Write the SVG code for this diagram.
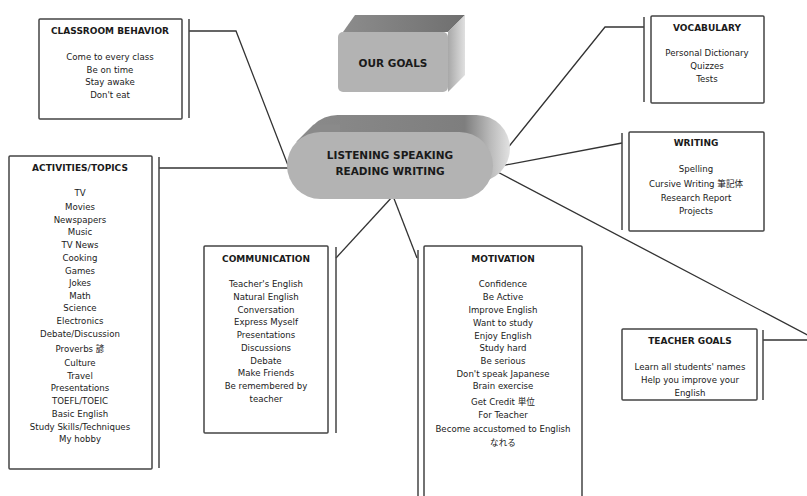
<svg xmlns="http://www.w3.org/2000/svg" width="807" height="496" viewBox="0 0 807 496">
<defs>
<linearGradient id="extr" x1="0" y1="0" x2="1" y2="0">
<stop offset="0" stop-color="#8a8a8a"/>
<stop offset="0.78" stop-color="#7e7e7e"/>
<stop offset="0.9" stop-color="#b8b8b8"/>
<stop offset="1" stop-color="#e2e2e2"/>
</linearGradient>
<linearGradient id="topg" x1="0" y1="0" x2="1" y2="0">
<stop offset="0" stop-color="#8c8c8c"/>
<stop offset="1" stop-color="#6f6f6f"/>
</linearGradient>
<linearGradient id="sideg" x1="0" y1="0" x2="1" y2="0">
<stop offset="0" stop-color="#a8a8a8"/>
<stop offset="1" stop-color="#e0e0e0"/>
</linearGradient>
</defs>
<style>
.box{fill:#fff;stroke:#444;stroke-width:1.5}
.bar{stroke:#444;stroke-width:1.5;fill:none}
.con{stroke:#333;stroke-width:1.3;fill:none}
.face{fill:#b3b3b3}
text{font-family:"DejaVu Sans","Noto Sans CJK JP",sans-serif;fill:#1a1a1a;text-anchor:middle;dominant-baseline:central}
.t{font-size:9px;font-weight:bold}
.i{font-size:8.6px}
.big{font-size:10.5px;font-weight:bold}
</style>
<rect width="807" height="496" fill="#fff"/>
<g id="connectors">
<polyline class="con" points="189,31 236,31 289,168"/>
<line class="con" x1="159" y1="168" x2="292" y2="168"/>
<polyline class="con" points="644,27 605,27 490,170"/>
<line class="con" x1="622" y1="143" x2="490" y2="168"/>
<polyline class="con" points="763,340 817,340 490,168"/>
<line class="con" x1="336" y1="258" x2="393" y2="196"/>
<line class="con" x1="393" y1="196" x2="417" y2="258"/>
</g>
<g id="our-goals">
<polygon points="343,32 355,15 465,15 448,32" fill="url(#topg)"/>
<polygon points="448,32 465,15 465,75 448,92" fill="url(#sideg)"/>
<rect class="face" x="338" y="32" width="110" height="60" rx="5"/>
<text class="big" x="393" y="63">OUR GOALS</text>
</g>
<g id="center">
<rect x="304" y="115" width="206" height="67" rx="33.5" fill="url(#extr)"/>
<polygon points="296.3,141.8 313.3,124.8 340,124.8 340,141.8" fill="#8a8a8a"/>
<rect class="face" x="287" y="132" width="206" height="67" rx="33.5"/>
<text class="big" x="390" y="155">LISTENING SPEAKING</text>
<text class="big" x="390" y="171">READING WRITING</text>
</g>
<g id="classroom-behavior">
<rect class="box" x="39" y="19" width="143" height="100" rx="1"/>
<line class="bar" x1="189" y1="19" x2="189" y2="118"/>
<text class="t" x="110" y="31">CLASSROOM BEHAVIOR</text>
<text class="i" x="110" y="57">Come to every class</text>
<text class="i" x="110" y="70">Be on time</text>
<text class="i" x="110" y="82">Stay awake</text>
<text class="i" x="110" y="95">Don't eat</text>
</g>
<g id="vocabulary">
<rect class="box" x="651" y="16" width="113" height="87" rx="1"/>
<line class="bar" x1="644" y1="17" x2="644" y2="102"/>
<text class="t" x="707" y="28">VOCABULARY</text>
<text class="i" x="707" y="53">Personal Dictionary</text>
<text class="i" x="707" y="66">Quizzes</text>
<text class="i" x="707" y="79">Tests</text>
</g>
<g id="writing">
<rect class="box" x="629" y="132" width="135" height="99" rx="1"/>
<line class="bar" x1="622" y1="133" x2="622" y2="230"/>
<text class="t" x="696" y="143">WRITING</text>
<text class="i" x="696" y="169">Spelling</text>
<text class="i" x="696" y="184">Cursive Writing 筆記体</text>
<text class="i" x="696" y="198">Research Report</text>
<text class="i" x="696" y="211">Projects</text>
</g>
<g id="activities-topics">
<rect class="box" x="9" y="156" width="143" height="313" rx="1"/>
<line class="bar" x1="159" y1="157" x2="159" y2="468"/>
<text class="t" x="80" y="168">ACTIVITIES/TOPICS</text>
<text class="i" x="80" y="193">TV</text>
<text class="i" x="80" y="206.5">Movies</text>
<text class="i" x="80" y="219.5">Newspapers</text>
<text class="i" x="80" y="232.3">Music</text>
<text class="i" x="80" y="245.3">TV News</text>
<text class="i" x="80" y="258">Cooking</text>
<text class="i" x="80" y="270.5">Games</text>
<text class="i" x="80" y="283.3">Jokes</text>
<text class="i" x="80" y="295.7">Math</text>
<text class="i" x="80" y="308.3">Science</text>
<text class="i" x="80" y="321.3">Electronics</text>
<text class="i" x="80" y="334">Debate/Discussion</text>
<text class="i" x="80" y="349.3">Proverbs 諺</text>
<text class="i" x="80" y="363.3">Culture</text>
<text class="i" x="80" y="375.7">Travel</text>
<text class="i" x="80" y="388.3">Presentations</text>
<text class="i" x="80" y="401.3">TOEFL/TOEIC</text>
<text class="i" x="80" y="414">Basic English</text>
<text class="i" x="80" y="426.7">Study Skills/Techniques</text>
<text class="i" x="80" y="439">My hobby</text>
</g>
<g id="communication">
<rect class="box" x="204" y="246" width="124" height="187" rx="1"/>
<line class="bar" x1="336" y1="247" x2="336" y2="433"/>
<text class="t" x="266" y="259">COMMUNICATION</text>
<text class="i" x="266" y="284">Teacher's English</text>
<text class="i" x="266" y="297">Natural English</text>
<text class="i" x="266" y="310">Conversation</text>
<text class="i" x="266" y="322">Express Myself</text>
<text class="i" x="266" y="335">Presentations</text>
<text class="i" x="266" y="348">Discussions</text>
<text class="i" x="266" y="361">Debate</text>
<text class="i" x="266" y="373">Make Friends</text>
<text class="i" x="266" y="386">Be remembered by</text>
<text class="i" x="266" y="399">teacher</text>
</g>
<g id="motivation">
<rect class="box" x="424" y="246" width="158" height="260" rx="1"/>
<line class="bar" x1="418" y1="250" x2="418" y2="500"/>
<text class="t" x="503" y="259">MOTIVATION</text>
<text class="i" x="503" y="284">Confidence</text>
<text class="i" x="503" y="297">Be Active</text>
<text class="i" x="503" y="310">Improve English</text>
<text class="i" x="503" y="323">Want to study</text>
<text class="i" x="503" y="336">Enjoy English</text>
<text class="i" x="503" y="348">Study hard</text>
<text class="i" x="503" y="361">Be serious</text>
<text class="i" x="503" y="374">Don't speak Japanese</text>
<text class="i" x="503" y="386">Brain exercise</text>
<text class="i" x="503" y="402">Get Credit 単位</text>
<text class="i" x="503" y="415">For Teacher</text>
<text class="i" x="503" y="429">Become accustomed to English</text>
<text class="i" x="503" y="443">なれる</text>
</g>
<g id="teacher-goals">
<rect class="box" x="622" y="329" width="135" height="71" rx="1"/>
<line class="bar" x1="763" y1="330" x2="763" y2="400"/>
<text class="t" x="690" y="341">TEACHER GOALS</text>
<text class="i" x="690" y="367">Learn all students' names</text>
<text class="i" x="690" y="380">Help you improve your</text>
<text class="i" x="690" y="393">English</text>
</g>
</svg>
